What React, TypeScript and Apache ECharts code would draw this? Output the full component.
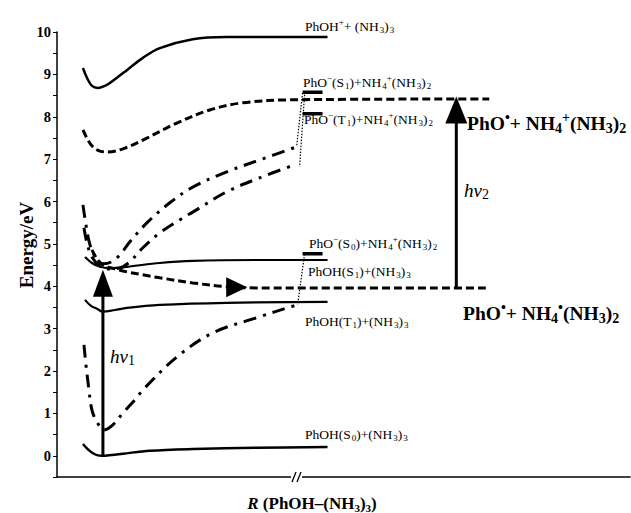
import React, { useEffect, useRef } from "react";
import * as echarts from "echarts";

// R axis in arbitrary units (0 = y axis), energies in eV
const ionR = [26, 30, 35, 41, 50, 60, 70, 86, 103, 136, 170, 271];
const ionE = [9.15, 8.92, 8.73, 8.68, 8.75, 8.92, 9.1, 9.39, 9.62, 9.83, 9.88, 9.88];

const upDashR = [26, 31, 36, 43, 51, 68, 86, 120, 153, 186, 236, 433];
const upDashE = [7.69, 7.45, 7.29, 7.19, 7.17, 7.26, 7.45, 7.85, 8.16, 8.33, 8.4, 8.42];

const s1R = [28, 35, 43, 53, 70, 103, 136, 203, 271];
const s1E = [4.69, 4.55, 4.46, 4.43, 4.46, 4.55, 4.6, 4.62, 4.62];

const t1R = [28, 34, 40, 46, 58, 70, 103, 170, 271];
const t1E = [3.68, 3.54, 3.47, 3.4, 3.44, 3.49, 3.56, 3.61, 3.63];

const s0R = [26, 31, 36, 41, 45, 55, 66, 93, 136, 200, 271];
const s0E = [0.28, 0.15, 0.06, 0.01, 0.0, 0.02, 0.05, 0.12, 0.16, 0.19, 0.21];

const lowDashR = [35, 40, 46, 58, 70, 86, 103, 136, 170, 203, 433];
const lowDashE = [4.86, 4.65, 4.5, 4.41, 4.34, 4.27, 4.2, 4.08, 3.99, 3.96, 3.96];

const ddAR = [26, 29, 33, 39, 46, 55, 63, 73, 91, 113, 136, 170, 203, 240];
const ddAE = [5.92, 5.45, 4.98, 4.67, 4.53, 4.58, 4.74, 5.05, 5.52, 5.97, 6.34, 6.7, 6.98, 7.29];

const ddBR = [27, 30, 35, 43, 53, 63, 73, 86, 103, 126, 136, 170, 203, 235];
const ddBE = [5.38, 5.02, 4.69, 4.48, 4.41, 4.43, 4.58, 4.91, 5.26, 5.61, 5.75, 6.23, 6.56, 6.84];

const ddCR = [27, 29, 32, 35, 40, 47, 56, 66, 78, 87, 120, 156, 203, 233, 241];
const ddCE = [2.62, 2.15, 1.56, 1.08, 0.8, 0.61, 0.73, 1.01, 1.32, 1.58, 2.33, 2.9, 3.28, 3.51, 3.56];

// asymptotic level bars and dotted connectors
const barR = [246, 266];
const barS1E = 8.58;
const barT1E = 8.07;
const barS0E = 4.77;
const dotAR = [246, 240];
const dotAE = [8.56, 7.29];
const dotBR = [248, 243];
const dotBE = [8.52, 6.82];
const dotCR = [248, 241];
const dotCE = [4.76, 3.56];

// arrows
const hv1R = 46;
const hv1E = [-0.02, 3.85];
const hv1Head = 4.07;
const hv2R = 400;
const hv2E = [3.96, 7.95];
const hv2Head = 8.16;
const flowArrow = [180, 3.98];

const yTicks = { min: -0.5, max: 10, step: 0.5 };

const FONT = "Liberation Serif";

function zip(xs: number[], ys: number[]) {
  return xs.map((x, i) => [x, ys[i]]);
}

function lineSeries(data: number[][], type: any, width: number, smooth = 0.35) {
  return {
    type: "line",
    data,
    showSymbol: false,
    symbol: "none",
    smooth,
    silent: true,
    lineStyle: { color: "#000", width, type, cap: "butt", opacity: 1 },
  };
}

const SOLID = "solid";
const DASH = [8, 4];
const DASHDOT = [13, 7, 3, 7];
const DOT = [1.5, 1.5];

const smallRich = {
  s: { fontSize: 9, lineHeight: 9, verticalAlign: "bottom", fontFamily: FONT, padding: [0, 0, 0, 1] },
  p: { fontSize: 9, lineHeight: 9, verticalAlign: "top", fontFamily: FONT },
};
const bigRich = {
  s: { fontSize: 14, lineHeight: 14, verticalAlign: "bottom", fontFamily: FONT, fontWeight: "bold" },
  p: { fontSize: 14, lineHeight: 14, verticalAlign: "top", fontFamily: FONT, fontWeight: "bold" },
};

function smallLabel(x: number, y: number, text: string) {
  return {
    type: "text",
    x,
    y,
    silent: true,
    style: {
      text,
      fontFamily: FONT,
      fontSize: 13.5,
      lineHeight: 17,
      fill: "#000",
      align: "left",
      verticalAlign: "middle",
      rich: smallRich,
    },
  };
}

function bigLabel(x: number, y: number, text: string) {
  return {
    type: "text",
    x,
    y,
    silent: true,
    style: {
      text,
      fontFamily: FONT,
      fontSize: 19.5,
      fontWeight: "bold",
      lineHeight: 25,
      fill: "#000",
      align: "left",
      verticalAlign: "middle",
      rich: bigRich,
    },
  };
}

const arrowStyle = { color: "#000", opacity: 1 };

export default function App() {
  const ref = useRef<HTMLDivElement>(null);
  useEffect(() => {
    if (!ref.current) return;
    const chart = echarts.init(ref.current, undefined, { renderer: "svg" });
    const option: any = {
      animation: false,
      backgroundColor: "#fff",
      grid: { left: 57, right: 1, top: 32, bottom: 36, containLabel: false },
      xAxis: {
        type: "value",
        min: 0,
        max: 574,
        axisLine: { show: true, onZero: false, lineStyle: { color: "#000", width: 1.5 } },
        axisTick: { show: false },
        axisLabel: { show: false },
        splitLine: { show: false },
      },
      yAxis: {
        type: "value",
        min: yTicks.min,
        max: yTicks.max,
        interval: yTicks.step,
        axisLine: { show: true, onZero: false, lineStyle: { color: "#000", width: 1.5 } },
        axisTick: { show: true, length: 4, lineStyle: { color: "#000", width: 1 } },
        axisLabel: {
          color: "#000",
          fontFamily: FONT,
          fontWeight: "bold",
          fontSize: 14.5,
          margin: 6,
          formatter: (v: number) => (Math.abs(v - Math.round(v)) < 1e-6 && v >= 0 ? String(Math.round(v)) : ""),
        },
        splitLine: { show: false },
      },
      series: [
        lineSeries(zip(ionR, ionE), SOLID, 2.5),
        lineSeries(zip(upDashR, upDashE), DASH, 3),
        lineSeries(zip(s1R, s1E), SOLID, 2.2),
        lineSeries(zip(t1R, t1E), SOLID, 2.2),
        lineSeries(zip(s0R, s0E), SOLID, 2.5),
        lineSeries(zip(lowDashR, lowDashE), DASH, 3),
        lineSeries(zip(ddAR, ddAE), DASHDOT, 3),
        lineSeries(zip(ddBR, ddBE), DASHDOT, 3),
        lineSeries(zip(ddCR, ddCE), DASHDOT, 3),
        lineSeries(zip(barR, [barS1E, barS1E]), SOLID, 3.5, 0),
        lineSeries(zip(barR, [barT1E, barT1E]), SOLID, 3.5, 0),
        lineSeries(zip(barR, [barS0E, barS0E]), SOLID, 3.5, 0),
        lineSeries(zip(dotAR, dotAE), DOT, 1.2, 0),
        lineSeries(zip(dotBR, dotBE), DOT, 1.2, 0),
        lineSeries(zip(dotCR, dotCE), DOT, 1.2, 0),
        lineSeries(zip([hv1R, hv1R], hv1E), SOLID, 3, 0),
        lineSeries(zip([hv2R, hv2R], hv2E), SOLID, 3, 0),
        {
          type: "scatter",
          silent: true,
          symbol: "triangle",
          symbolSize: [20, 27],
          itemStyle: arrowStyle,
          data: [[hv1R, hv1Head]],
          z: 5,
        },
        {
          type: "scatter",
          silent: true,
          symbol: "triangle",
          symbolSize: [22, 27],
          itemStyle: arrowStyle,
          data: [[hv2R, hv2Head]],
          z: 5,
        },
        {
          type: "scatter",
          silent: true,
          symbol: "triangle",
          symbolSize: [20, 21],
          symbolRotate: -90,
          itemStyle: arrowStyle,
          data: [flowArrow],
          z: 5,
        },
      ],
      graphic: [
        // axis break
        { type: "rect", shape: { x: 291, y: 472, width: 11, height: 10 }, style: { fill: "#fff" }, z: 100 },
        { type: "line", shape: { x1: 292, y1: 482, x2: 296, y2: 472 }, style: { stroke: "#000", lineWidth: 1.3 }, z: 101 },
        { type: "line", shape: { x1: 297, y1: 482, x2: 301, y2: 472 }, style: { stroke: "#000", lineWidth: 1.3 }, z: 101 },
        // axis titles
        {
          type: "text",
          x: 26,
          y: 245,
          rotation: Math.PI / 2,
          style: {
            text: "Energy/eV",
            fontFamily: FONT,
            fontWeight: "bold",
            fontSize: 19,
            fill: "#000",
            align: "center",
            verticalAlign: "middle",
          },
        },
        {
          type: "text",
          x: 312,
          y: 503,
          style: {
            text: "{i|R} (PhOH–(NH{s|3}){s|3})",
            fontFamily: FONT,
            fontWeight: "bold",
            fontSize: 17,
            lineHeight: 20,
            fill: "#000",
            align: "center",
            verticalAlign: "middle",
            rich: {
              i: { fontStyle: "italic", fontWeight: "bold", fontSize: 17, fontFamily: FONT },
              s: { fontSize: 11, lineHeight: 11, verticalAlign: "bottom", fontWeight: "bold", fontFamily: FONT },
            },
          },
        },
        // state labels
        smallLabel(305, 26, "PhOH{p|+}+ (NH{s|3}){s|3}"),
        smallLabel(303, 82, "PhO{p|−}(S{s|1})+NH{s|4}{p|+}(NH{s|3}){s|2}"),
        smallLabel(304, 119, "PhO{p|−}(T{s|1})+NH{s|4}{p|+}(NH{s|3}){s|2}"),
        smallLabel(309, 243, "PhO{p|−}(S{s|0})+NH{s|4}{p|+}(NH{s|3}){s|2}"),
        smallLabel(308, 271, "PhOH(S{s|1})+(NH{s|3}){s|3}"),
        smallLabel(305, 321, "PhOH(T{s|1})+(NH{s|3}){s|3}"),
        smallLabel(305, 434, "PhOH(S{s|0})+(NH{s|3}){s|3}"),
        bigLabel(467, 123, "PhO{p|•}+ NH{s|4}{p|+}(NH{s|3}){s|2}"),
        bigLabel(463, 313, "PhO{p|•}+ NH{s|4}{p|•}(NH{s|3}){s|2}"),
        // photon labels
        {
          type: "text",
          x: 110,
          y: 356,
          style: {
            text: "hν{s|1}",
            fontFamily: FONT,
            fontStyle: "italic",
            fontSize: 19,
            lineHeight: 22,
            fill: "#000",
            align: "left",
            verticalAlign: "middle",
            rich: { s: { fontSize: 14, lineHeight: 14, verticalAlign: "bottom", fontFamily: FONT, fontStyle: "normal" } },
          },
        },
        {
          type: "text",
          x: 464,
          y: 190,
          style: {
            text: "hν{s|2}",
            fontFamily: FONT,
            fontStyle: "italic",
            fontSize: 19,
            lineHeight: 22,
            fill: "#000",
            align: "left",
            verticalAlign: "middle",
            rich: { s: { fontSize: 14, lineHeight: 14, verticalAlign: "bottom", fontFamily: FONT, fontStyle: "normal" } },
          },
        },
      ],
    };
    chart.setOption(option);
    return () => chart.dispose();
  }, []);
  return <div ref={ref} style={{ position: "absolute", left: 0, top: 0, width: 631, height: 513 }} />;
}
